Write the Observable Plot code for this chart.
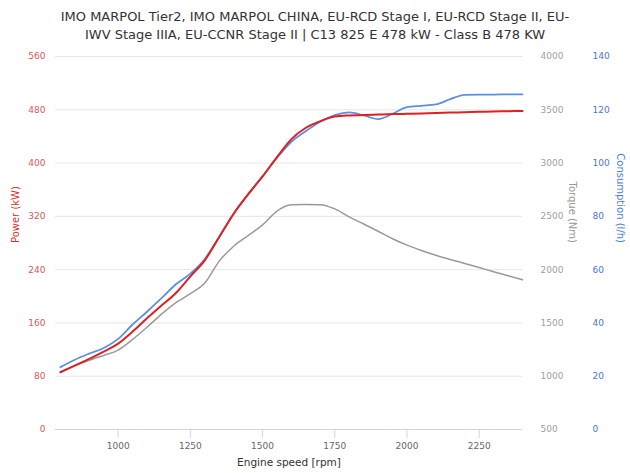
<!DOCTYPE html>
<html>
<head>
<meta charset="utf-8">
<script src="https://cdn.jsdelivr.net/npm/d3@7"></script>
<script src="https://cdn.jsdelivr.net/npm/@observablehq/plot@0.6"></script>
<style>
  body { margin: 0; background: #fff; font-family: "DejaVu Sans", sans-serif; }
  #title { width: 630px; text-align: center; font-size: 13px; line-height: 18px; color: #333; padding-top: 8px; height: 36px; }
</style>
</head>
<body>
<div id="title">IMO MARPOL Tier2, IMO MARPOL CHINA, EU-RCD Stage I, EU-RCD Stage II, EU-<br>IWV Stage IIIA, EU-CCNR Stage II | C13 825 E 478 kW - Class B 478 KW</div>
<div id="chart"></div>
<script>
const rpm = [800, 850, 900, 950, 1000, 1050, 1100, 1150, 1200, 1250, 1300, 1350, 1400, 1450, 1500, 1550, 1600, 1650, 1700, 1750, 1800, 1850, 1900, 1950, 2000, 2050, 2100, 2150, 2200, 2250, 2300, 2350, 2400];
const powerKW = [86, 96, 106, 117, 129, 147, 167, 186, 205, 230, 254, 289, 324, 353, 380, 409, 436, 453, 463, 470, 471.5, 472, 472.8, 473.5, 474, 474.6, 475.2, 475.8, 476.4, 477, 477.5, 477.9, 478.3];
const torqueNm = [1038, 1100, 1150, 1195, 1245, 1345, 1460, 1582, 1690, 1775, 1875, 2080, 2220, 2320, 2420, 2550, 2608, 2612, 2610, 2570, 2495, 2428, 2360, 2290, 2230, 2180, 2135, 2095, 2058, 2020, 1980, 1942, 1905];
const consumptionLh = [23.4, 26.2, 28.5, 30.6, 34, 39.4, 44.2, 49.3, 54.5, 58.5, 64, 72.3, 81, 88.3, 95, 102, 108, 112, 115.5, 118, 119, 117.9, 116.5, 118.5, 121, 121.5, 122, 124, 125.6, 125.7, 125.7, 125.8, 125.8];

const xTicks = [1000, 1250, 1500, 1750, 2000, 2250];
const powerTicks = [0, 80, 160, 240, 320, 400, 480, 560];
const torqueMin = 500, torqueMax = 4000, consMax = 140, powerMax = 560;

const rows = rpm.map((r, i) => ({
  rpm: r,
  power: powerKW[i],
  torqueY: (torqueNm[i] - torqueMin) / (torqueMax - torqueMin) * powerMax,
  consY: consumptionLh[i] / consMax * powerMax
}));

const curve = "monotone-x";
const chart = Plot.plot({
  width: 630,
  height: 429,
  marginTop: 12,
  marginBottom: 44,
  marginLeft: 55,
  marginRight: 108,
  x: { domain: [783, 2400] },
  y: { domain: [0, powerMax] },
  style: { fontFamily: "DejaVu Sans, sans-serif", fontSize: "9px", background: "white" },
  marks: [
    Plot.gridY({ ticks: powerTicks, stroke: "#e6e6e6", strokeOpacity: 1 }),
    Plot.ruleY([0], { stroke: "#ccd6eb" }),
    Plot.axisX({ ticks: xTicks, tickSize: 9, tickPadding: 4, stroke: "#ccd6eb", fill: "#666", label: null,
      tickFormat: d => String(d) }),
    Plot.axisY({ anchor: "left", ticks: powerTicks, tickSize: 0, tickPadding: 10, fill: "#d65a5a", label: null,
      tickFormat: d => String(d) }),
    Plot.axisY({ anchor: "right", ticks: powerTicks, tickSize: 0, tickPadding: 18, fill: "#a0a0a0", label: null,
      tickFormat: d => String(Math.round(torqueMin + d / powerMax * (torqueMax - torqueMin))) }),
    Plot.axisY({ anchor: "right", ticks: powerTicks, tickSize: 0, tickPadding: 70, fill: "#4a78cc", label: null,
      tickFormat: d => String(Math.round(d / powerMax * consMax)) }),
    Plot.text(["Engine speed [rpm]"], { frameAnchor: "bottom", dy: 36, fontSize: 10.5, fill: "#333" }),
    Plot.text(["Power (kW)"], { frameAnchor: "left", rotate: -90, dx: -40, fontSize: 10, fill: "#e03030" }),
    Plot.text(["Torque (Nm)"], { frameAnchor: "right", rotate: 90, dx: 50, fontSize: 10, fill: "#999" }),
    Plot.text(["Consumption (l/h)"], { frameAnchor: "right", rotate: 90, dx: 98, fontSize: 10, fill: "#4a80e0" }),
    Plot.line(rows, { x: "rpm", y: "torqueY", stroke: "#9a9a9a", strokeWidth: 1.5, curve }),
    Plot.line(rows, { x: "rpm", y: "consY", stroke: "#5b8fe6", strokeWidth: 1.8, curve }),
    Plot.line(rows, { x: "rpm", y: "power", stroke: "#e21f1f", strokeWidth: 2, curve })
  ]
});
document.getElementById("chart").appendChild(chart);
</script>
</body>
</html>
